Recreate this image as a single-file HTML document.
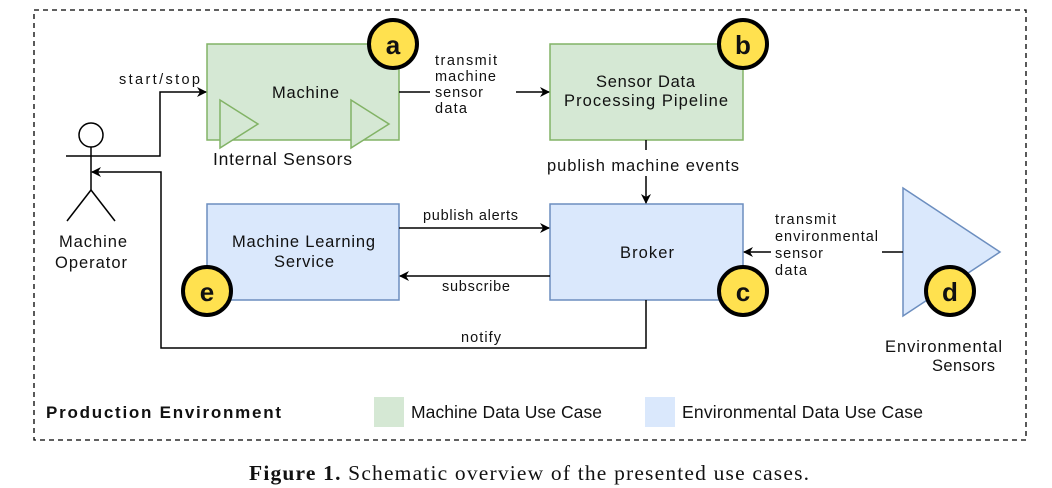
<!DOCTYPE html>
<html><head><meta charset="utf-8"><style>
html,body{margin:0;padding:0;background:#fff;}
svg{display:block;}
text{font-family:"Liberation Sans",sans-serif;fill:#111;}
</style></head><body>
<svg width="1052" height="488" viewBox="0 0 1052 488" xmlns="http://www.w3.org/2000/svg">
<defs>
<marker id="ar" markerWidth="10" markerHeight="10" refX="9" refY="5" orient="auto" markerUnits="userSpaceOnUse">
<path d="M0,0 L10,5 L0,10 L3,5 Z" fill="#000"/>
</marker>
</defs>
<rect x="34" y="10" width="992" height="430" fill="none" stroke="#000" stroke-width="1.3" stroke-dasharray="5,4"/>

<rect x="207" y="44" width="192" height="96" fill="#d5e8d4" stroke="#82b366" stroke-width="1.5"/>
<polygon points="220,100 258,124 220,148" fill="#d5e8d4" stroke="#82b366" stroke-width="1.5"/>
<polygon points="351,100 389,124 351,148" fill="#d5e8d4" stroke="#82b366" stroke-width="1.5"/>
<text x="272" y="98" font-size="16.5" textLength="67" lengthAdjust="spacing">Machine</text>
<text x="213" y="165" font-size="17.5" textLength="139" lengthAdjust="spacing">Internal Sensors</text>

<rect x="550" y="44" width="193" height="96" fill="#d5e8d4" stroke="#82b366" stroke-width="1.5"/>
<text x="596" y="87" font-size="16.5" textLength="99" lengthAdjust="spacing">Sensor Data</text>
<text x="564" y="106" font-size="16.5" textLength="164" lengthAdjust="spacing">Processing Pipeline</text>

<rect x="207" y="204" width="192" height="96" fill="#dae8fc" stroke="#6c8ebf" stroke-width="1.5"/>
<text x="232" y="247" font-size="16.5" textLength="143" lengthAdjust="spacing">Machine Learning</text>
<text x="274" y="267" font-size="16.5" textLength="60" lengthAdjust="spacing">Service</text>

<rect x="550" y="204" width="193" height="96" fill="#dae8fc" stroke="#6c8ebf" stroke-width="1.5"/>
<text x="620" y="258" font-size="16.5" textLength="54" lengthAdjust="spacing">Broker</text>

<polygon points="903,188 1000,252 903,316" fill="#dae8fc" stroke="#6c8ebf" stroke-width="1.5"/>
<text x="885" y="352" font-size="16.5" textLength="117" lengthAdjust="spacing">Environmental</text>
<text x="932" y="371" font-size="16.5" textLength="63" lengthAdjust="spacing">Sensors</text>

<g stroke="#000" stroke-width="1.5" fill="none">
<circle cx="91" cy="135" r="12" fill="#fff"/>
<line x1="91" y1="147" x2="91" y2="190"/>
<line x1="66" y1="156" x2="116" y2="156"/>
<line x1="91" y1="190" x2="67" y2="221"/>
<line x1="91" y1="190" x2="115" y2="221"/>
</g>
<text x="59" y="247" font-size="16.5" textLength="68" lengthAdjust="spacing">Machine</text>
<text x="55" y="268" font-size="16.5" textLength="72" lengthAdjust="spacing">Operator</text>

<g stroke="#000" stroke-width="1.5" fill="none">
<polyline points="116,156 160,156 160,92 206,92" marker-end="url(#ar)"/>
<polyline points="646,300 646,348 161,348 161,172 92,172" marker-end="url(#ar)"/>
<line x1="399" y1="92" x2="430" y2="92"/>
<line x1="516" y1="92" x2="549" y2="92" marker-end="url(#ar)"/>
<line x1="646" y1="140" x2="646" y2="150"/>
<line x1="646" y1="176" x2="646" y2="203" marker-end="url(#ar)"/>
<line x1="399" y1="228" x2="549" y2="228" marker-end="url(#ar)"/>
<line x1="550" y1="276" x2="400" y2="276" marker-end="url(#ar)"/>
<line x1="882" y1="252" x2="903" y2="252"/>
<line x1="771" y1="252" x2="744" y2="252" marker-end="url(#ar)"/>
</g>
<g font-size="14.5">
<text x="119" y="84" textLength="81" lengthAdjust="spacing">start/stop</text>
<text x="435" y="65" textLength="62" lengthAdjust="spacing">transmit</text>
<text x="435" y="81" textLength="61" lengthAdjust="spacing">machine</text>
<text x="435" y="97" textLength="48" lengthAdjust="spacing">sensor</text>
<text x="435" y="113" textLength="32" lengthAdjust="spacing">data</text>
<text x="423" y="220" textLength="95" lengthAdjust="spacing">publish alerts</text>
<text x="442" y="291" textLength="68" lengthAdjust="spacing">subscribe</text>
<text x="461" y="342" textLength="40" lengthAdjust="spacing">notify</text>
<text x="775" y="224" textLength="61" lengthAdjust="spacing">transmit</text>
<text x="775" y="241" textLength="103" lengthAdjust="spacing">environmental</text>
<text x="775" y="258" textLength="48" lengthAdjust="spacing">sensor</text>
<text x="775" y="275" textLength="32" lengthAdjust="spacing">data</text>
</g>
<text x="547" y="171" font-size="16.5" textLength="192" lengthAdjust="spacing">publish machine events</text>

<g stroke="#000" stroke-width="4" fill="#ffe14f">
<circle cx="393" cy="44" r="24"/>
<circle cx="743" cy="44" r="24"/>
<circle cx="743" cy="291" r="24"/>
<circle cx="950" cy="291" r="24"/>
<circle cx="207" cy="291" r="24"/>
</g>
<g font-size="26" font-weight="bold" text-anchor="middle">
<text x="393" y="54">a</text>
<text x="743" y="54">b</text>
<text x="743" y="301">c</text>
<text x="950" y="301">d</text>
<text x="207" y="301">e</text>
</g>

<text x="46" y="418" font-size="17" font-weight="bold" textLength="235" lengthAdjust="spacing">Production Environment</text>
<rect x="374" y="397" width="30" height="30" fill="#d5e8d4"/>
<text x="411" y="418" font-size="17.5" textLength="191" lengthAdjust="spacing">Machine Data Use Case</text>
<rect x="645" y="397" width="30" height="30" fill="#dae8fc"/>
<text x="682" y="418" font-size="17.5" textLength="241" lengthAdjust="spacing">Environmental Data Use Case</text>

<text x="249" y="480" font-size="21.5" textLength="560" lengthAdjust="spacing" style="font-family:'Liberation Serif',serif"><tspan font-weight="bold">Figure 1.</tspan> Schematic overview of the presented use cases.</text>
</svg>
</body></html>
